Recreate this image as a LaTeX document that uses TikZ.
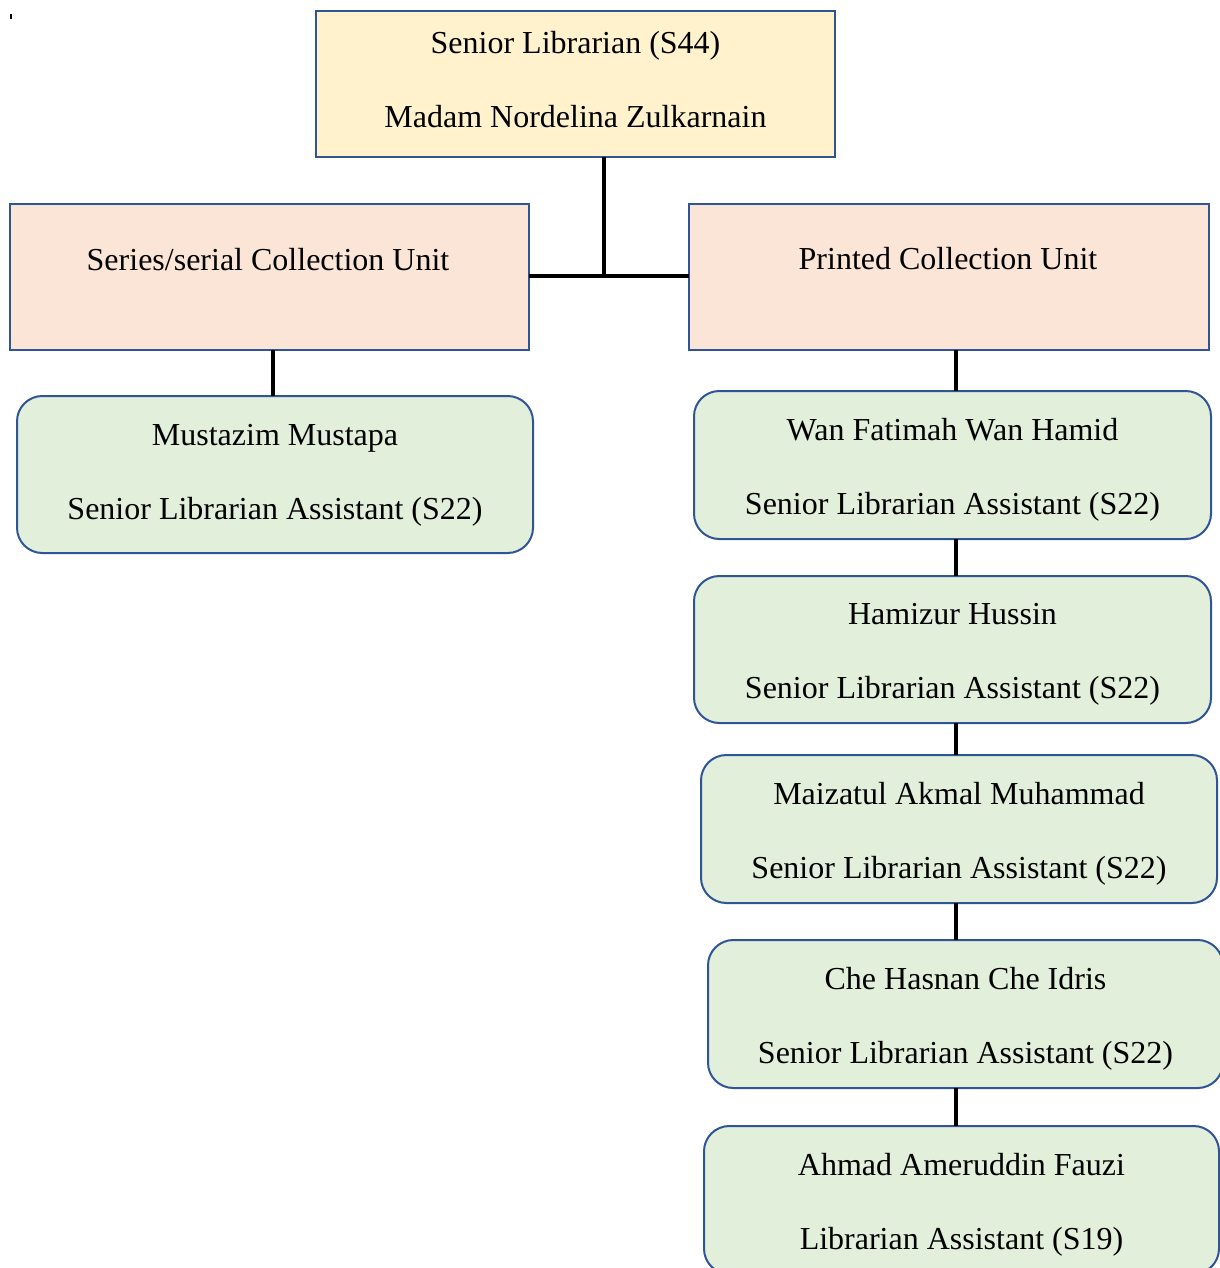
\documentclass[tikz,border=0pt]{standalone}
\usepackage{fontspec}
\setmainfont{Liberation Serif}
\definecolor{edgeblue}{RGB}{47,85,151}
\definecolor{headfill}{RGB}{255,242,204}
\definecolor{unitfill}{RGB}{251,229,214}
\definecolor{stafffill}{RGB}{226,239,218}
\newcommand\pxu{0.75pt}
% two centred lines; #1 = height of the first line, #2 = depth of the last
\newcommand\tworows[4]{\rule{0pt}{#1pt}#3\\#4\rule[-#2pt]{0pt}{#2pt}}
\begin{document}
\begin{tikzpicture}[x=0.75pt,y=-0.75pt,
  boxbase/.style={draw=edgeblue,line width=1.5pt,inner sep=0pt,outer sep=0pt,
    align=center,font=\fontsize{24}{55.5}\selectfont},
  headbox/.style={boxbase,fill=headfill,rectangle},
  unitbox/.style={boxbase,fill=unitfill,rectangle},
  staffbox/.style={boxbase,fill=stafffill,rounded corners=19pt},
  unittext/.style={inner sep=0pt,font=\fontsize{24}{28}\selectfont},
  link/.style={line width=3pt,black}]
\useasboundingbox (0,0) rectangle (1220,1268);
\clip (0,0) rectangle (1220,1268);

% small mark in the corner
\fill (10,14) rectangle (11.5,18.5);

% head of section
\node[headbox,minimum width=519*\pxu,minimum height=146*\pxu] (head) at (575.5,84)
  {\tworows{19}{10}{Senior Librarian (S44)}{Madam Nordelina Zulkarnain}};

% units
\node[unitbox,minimum width=519*\pxu,minimum height=146*\pxu] (ser) at (269.5,277) {};
\node[unittext] (sertext) at (268,260) {Series/serial Collection Unit};
\node[unitbox,minimum width=520*\pxu,minimum height=146*\pxu] (prn) at (949,277) {};
\node[unittext] (prntext) at (948,259) {Printed Collection Unit};

% staff
\node[staffbox,minimum width=516*\pxu,minimum height=157*\pxu] (m0) at (275,474.5)
  {\tworows{18}{6}{Mustazim Mustapa}{Senior Librarian Assistant (S22)}};
\node[staffbox,minimum width=517*\pxu,minimum height=148*\pxu] (r1) at (952.5,465)
  {\tworows{24}{6}{Wan Fatimah Wan Hamid}{Senior Librarian Assistant (S22)}};
\node[staffbox,minimum width=517*\pxu,minimum height=147*\pxu] (r2) at (952.5,649.5)
  {\tworows{24}{6}{Hamizur Hussin}{Senior Librarian Assistant (S22)}};
\node[staffbox,minimum width=516*\pxu,minimum height=148*\pxu] (r3) at (959,829)
  {\tworows{24}{6}{Maizatul Akmal Muhammad}{Senior Librarian Assistant (S22)}};
\node[staffbox,minimum width=515*\pxu,minimum height=148*\pxu] (r4) at (965.5,1014)
  {\tworows{24}{6}{Che Hasnan Che Idris}{Senior Librarian Assistant (S22)}};
\node[staffbox,minimum width=515*\pxu,minimum height=148*\pxu] (r5) at (961.5,1200)
  {\tworows{24}{6}{Ahmad Ameruddin Fauzi}{Librarian Assistant (S19)}};

% connectors
\coordinate (j) at (604,276);
\coordinate (col) at (956,0);
\draw[link] (head.south -| j) -- (j);
\draw[link] (ser.east |- j) -- (prn.west |- j);
\draw[link] (m0.north -| 273,0) -- (ser.south -| 273,0);
\draw[link] (prn.south -| col) -- (r1.north -| col);
\draw[link] (r1.south -| col) -- (r2.north -| col);
\draw[link] (r2.south -| col) -- (r3.north -| col);
\draw[link] (r3.south -| col) -- (r4.north -| col);
\draw[link] (r4.south -| col) -- (r5.north -| col);
\end{tikzpicture}
\end{document}
